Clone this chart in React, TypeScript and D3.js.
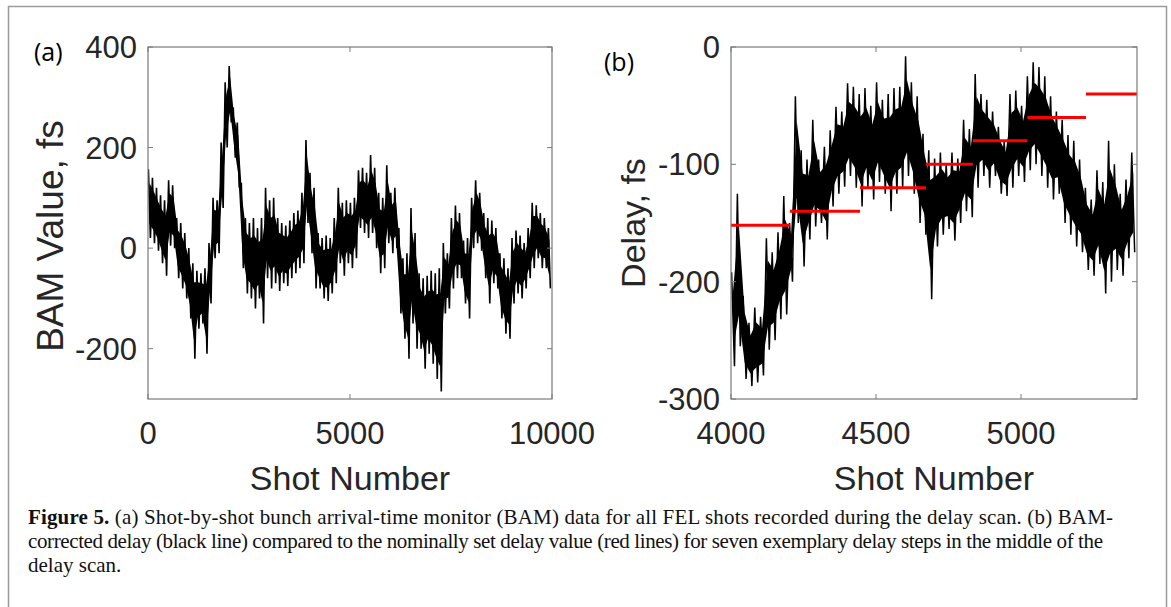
import React from 'react';
import * as d3 from 'd3';

// (a) BAM value, envelope per 100-shot block (fs)
const bamHigh = [157, 140, 120, 105, 95, 135, 125, 60, 50, 30,
  0, -30, -45, -50, -40, 10, 100, 95, 210, 330,
  362, 280, 250, 130, 60, 50, 60, 40, 60, 120,
  95, 100, 60, 50, 45, 55, 70, 75, 110, 215,
  150, 120, 30, 20, 25, 20, 60, 120, 90, 95,
  90, 100, 155, 160, 150, 185, 160, 110, 100, 165,
  110, 120, 40, -20, -10, 80, 30, -50, -60, -55,
  -45, -50, -40, 10, -10, 60, 85, 70, 15, 20,
  100, 135, 110, 70, 60, 55, 40, -10, -20, -40,
  20, 35, 25, 10, 40, 90, 85, 70, 60, 40];
const bamLow = [20, 10, -5, -30, -55, 5, 0, -60, -80, -100,
  -140, -220, -160, -150, -210, -110, -20, -10, 80, 200,
  250, 180, 120, -40, -90, -100, -120, -100, -150, -60,
  -80, -70, -85, -70, -75, -60, -50, -40, -30, 50,
  -10, -80, -80, -100, -105, -90, -70, -30, -55, -30,
  -40, -20, 40, 30, 20, 30, 0, -50, -40, 10,
  -10, 0, -130, -180, -220, -150, -200, -200, -240, -210,
  -230, -260, -285, -130, -120, -80, -60, -60, -110, -140,
  0, 10, -5, -60, -110, -70, -80, -140, -170, -180,
  -110, -90, -100, -80, -60, -40, -20, -40, -40, -80];
const bamShots = d3.range(0, 10000, 100);

// (b) corrected delay, envelope per 20-shot block (fs)
const delayHigh = [-192, -125, -212, -235, -222, -230, -163, -175, -158, -127,
  -150, -42, -88, -96, -62, -96, -85, -71, -51, -55,
  -31, -34, -40, -35, -50, -30, -45, -40, -35, -34,
  -8, -30, -42, -74, -88, -95, -90, -100, -90, -95,
  -62, -70, -23, -40, -45, -55, -68, -80, -40, -37,
  -50, -25, -13, -17, -25, -42, -55, -62, -75, -80,
  -96, -120, -130, -105, -115, -80, -100, -125, -113, -90];
const delayLow = [-272, -255, -283, -289, -286, -280, -258, -250, -232, -228,
  -200, -150, -187, -164, -153, -150, -164, -136, -125, -119,
  -110, -120, -136, -120, -130, -115, -125, -140, -125, -120,
  -110, -125, -150, -160, -215, -170, -160, -155, -165, -150,
  -140, -145, -120, -110, -120, -110, -125, -127, -120, -110,
  -115, -105, -100, -110, -120, -130, -125, -150, -160, -170,
  -175, -190, -195, -185, -210, -200, -190, -195, -180, -175];
const delayShots = d3.range(4000, 5400, 20);

// nominal delay steps
const stepStart = [4000, 4203, 4445, 4672, 4834, 5022, 5224];
const stepEnd = [4203, 4445, 4672, 4834, 5022, 5224, 5400];
const stepValue = [-152, -140, -120, -100, -80, -60, -40];

const bamXTicks = [0, 5000, 10000];
const bamYTicks = [-200, 0, 200, 400];
const delayXTicks = [4000, 4500, 5000];
const delayYTicks = [-300, -200, -100, 0];

const captionLines = [
  ' (a) Shot-by-shot bunch arrival-time monitor (BAM) data for all FEL shots recorded during the delay scan. (b) BAM-',
  'corrected delay (black line) compared to the nominally set delay value (red lines) for seven exemplary delay steps in the middle of the',
  'delay scan.',
];

const AX = '#7a7a7a';
const TXT = '#262626';
const SANS = '"Liberation Sans", Arial, Helvetica, sans-serif';

function zigzag(shots: number[], hi: number[], lo: number[], step: number) {
  const pts: [number, number][] = [];
  shots.forEach((s, i) => {
    pts.push([s + step * 0.1, hi[i]]);
    pts.push([s + step * 0.6, lo[i]]);
  });
  return pts;
}

// dense core of the trace, a bit inside the block envelope
function core(shots: number[], hi: number[], lo: number[], step: number, inset: number) {
  return shots.map((s, i) => {
    const r = hi[i] - lo[i];
    return { x: s + step * 0.35, top: hi[i] - r * inset, bot: lo[i] + r * inset };
  });
}

function Panel({ id, x, y, xTicks, yTicks, pts, band, lineW, yLabel, labelSize, labelY, tag, tagPos, labelX, children }: any) {
  const [x0, x1] = x.range();
  const [y0, y1] = y.range(); // bottom, top
  const line = d3.line<[number, number]>().x(d => x(d[0])).y(d => y(d[1]));
  const area = d3.area<any>().x(d => x(d.x)).y0(d => y(d.bot)).y1(d => y(d.top));
  return (
    <g>
      <clipPath id={id}>
        <rect x={x0} y={y1} width={x1 - x0} height={y0 - y1} />
      </clipPath>
      <g clipPath={`url(#${id})`}>
        <path d={area(band) || ''} fill="#000" />
        <path d={line(pts) || ''} fill="none" stroke="#000" strokeWidth={lineW} strokeLinejoin="miter" strokeMiterlimit={2} />
        {children}
      </g>
      <rect x={x0} y={y1} width={x1 - x0} height={y0 - y1} fill="none" stroke={AX} strokeWidth={1.2} />
      {xTicks.map((t: number) => (
        <g key={'x' + t}>
          <line x1={x(t)} x2={x(t)} y1={y0} y2={y0 - 5} stroke={AX} />
          <line x1={x(t)} x2={x(t)} y1={y1} y2={y1 + 5} stroke={AX} />
          <text x={x(t)} y={444} textAnchor="middle" fontSize={31} fill={TXT} fontFamily={SANS}>{t}</text>
        </g>
      ))}
      {yTicks.map((t: number) => (
        <g key={'y' + t}>
          <line x1={x0} x2={x0 + 5} y1={y(t)} y2={y(t)} stroke={AX} />
          <line x1={x1} x2={x1 - 5} y1={y(t)} y2={y(t)} stroke={AX} />
          <text x={x0 - 11} y={y(t) + 11} textAnchor="end" fontSize={31} fill={TXT} fontFamily={SANS}>{t}</text>
        </g>
      ))}
      <text x={(x0 + x1) / 2} y={490} textAnchor="middle" fontSize={34} fill={TXT} fontFamily={SANS}>Shot Number</text>
      <text transform={`translate(${labelX},${labelY}) rotate(-90)`} textAnchor="middle" fontSize={labelSize} fill={TXT} fontFamily={SANS}>{yLabel}</text>
      <text x={tagPos[0]} y={tagPos[1]} fontSize={25} fill="#000" fontFamily='"Open Sans", "Noto Sans", sans-serif'>{tag}</text>
    </g>
  );
}

export default function App() {
  const xa = d3.scaleLinear().domain([0, 10000]).range([148, 552]);
  const ya = d3.scaleLinear().domain([-300, 400]).range([399, 47]);
  const xb = d3.scaleLinear().domain([4000, 5400]).range([731, 1137]);
  const yb = d3.scaleLinear().domain([-300, 0]).range([399, 47]);

  const ptsA = zigzag(bamShots, bamHigh, bamLow, 100);
  const ptsB = zigzag(delayShots, delayHigh, delayLow, 20);
  const bandA = core(bamShots, bamHigh, bamLow, 100, 0.2);
  const bandB = core(delayShots, delayHigh, delayLow, 20, 0.2);

  return (
    <svg width={1171} height={607} style={{ position: 'absolute', left: 0, top: 0, background: '#fff' }}>
      <rect x={0} y={0} width={1171} height={607} fill="#fff" />
      <path d="M8.5,607 V6.5 H1166.5 V607" fill="none" stroke="#9a9a9a" strokeWidth={1.5} />
      <Panel id="clipA" x={xa} y={ya} xTicks={bamXTicks} yTicks={bamYTicks} pts={ptsA} band={bandA} lineW={1.6}
        yLabel="BAM Value, fs" labelSize={37} labelY={236} tag="(a)" tagPos={[34, 61]} labelX={63} />
      <Panel id="clipB" x={xb} y={yb} xTicks={delayXTicks} yTicks={delayYTicks} pts={ptsB} band={bandB} lineW={1.5}
        yLabel="Delay, fs" labelSize={34} labelY={223} tag="(b)" tagPos={[604, 71]} labelX={645}>
        {stepValue.map((v, i) => (
          <line key={i} x1={xb(stepStart[i])} x2={xb(stepEnd[i])} y1={yb(v)} y2={yb(v)} stroke="#ff0000" strokeWidth={3} />
        ))}
      </Panel>
      <g fontFamily='"Liberation Serif", "Times New Roman", serif' fontSize={21} fill="#111">
        <text x={28} y={524} textLength={1085} lengthAdjust="spacing">
          <tspan fontWeight="bold">Figure 5.</tspan>
          <tspan>{captionLines[0]}</tspan>
        </text>
        <text x={28} y={548} textLength={1075} lengthAdjust="spacing">{captionLines[1]}</text>
        <text x={28} y={572}>{captionLines[2]}</text>
      </g>
    </svg>
  );
}
